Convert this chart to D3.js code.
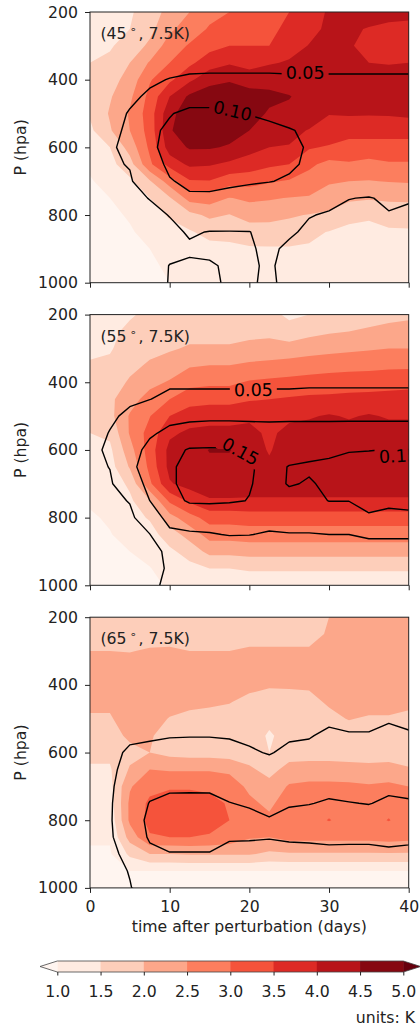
<!DOCTYPE html>
<html>
<head>
<meta charset="utf-8">
<script src="https://cdn.jsdelivr.net/npm/d3@7"></script>
<style>
  body { margin: 0; background: #fff; }
  svg { display: block; }
  text { font-family: "DejaVu Sans", sans-serif; fill: #222; }
</style>
</head>
<body>
<svg id="chart" width="420" height="1032"></svg>
<script>
// grid axes of the model output
const days = [0, 2.5, 5, 7.5, 10, 12.5, 15, 17.5, 20, 22.5, 25, 27.5, 30, 32.5, 35, 37.5, 40];
const pressures = [200, 250, 300, 350, 400, 450, 500, 550, 600, 650, 700, 750, 800, 850, 900, 950, 1000];

const fillLevels = [1.0, 1.5, 2.0, 2.5, 3.0, 3.5, 4.0, 4.5, 5.0];
const lineLevels = [5, 10, 15];          // line field is kept in hundredths (0.05, 0.10, 0.15)
const dayTicks = [0, 10, 20, 30, 40];
const pressureTicks = [200, 400, 600, 800, 1000];
const panelTitles = ["45", "55", "65"];
const redsStops = ["#fff5f0", "#fee0d2", "#fcbba1", "#fc9272", "#fb6a4a", "#ef3b2c", "#cb181d", "#a50f15", "#67000d"];

// temperature response (K); one array per day, 200 hPa -> 1000 hPa
const fill45 = [
  [1.3,1.35,1.4,1.5,1.6,1.65,1.55,1.4,1.3,1.1,0.95,0.9,0.85,0.8,0.8,0.8,0.8],
  [1.35,1.4,1.45,1.6,1.8,1.95,2.05,1.95,1.5,1.35,1.2,1.0,0.9,0.85,0.8,0.8,0.8],
  [1.45,1.5,1.7,2.0,2.2,2.4,2.55,2.5,2.2,1.8,1.4,1.2,1.05,0.95,0.85,0.8,0.8],
  [1.7,1.85,2.1,2.55,2.95,3.15,3.25,3.2,3.1,2.9,1.95,1.5,1.3,1.15,1.0,0.9,0.85],
  [2.2,2.4,2.75,3.0,3.4,4.0,4.35,4.45,4.25,3.7,2.75,1.95,1.55,1.35,1.2,1.1,1.0],
  [2.5,2.75,3.05,3.4,3.9,4.6,4.8,4.8,4.55,4.1,3.45,2.7,1.85,1.45,1.25,1.15,1.1],
  [2.85,3.05,3.35,3.75,4.35,4.75,4.9,4.85,4.55,4.05,3.48,2.75,2.1,1.65,1.35,1.2,1.1],
  [3.0,3.2,3.5,3.95,4.45,4.8,4.85,4.7,4.45,3.9,3.2,2.48,1.98,1.65,1.4,1.25,1.15],
  [3.2,3.3,3.5,3.8,4.3,4.7,4.68,4.5,4.2,3.75,3.2,2.6,2.2,1.75,1.45,1.3,1.2],
  [3.35,3.4,3.5,3.95,4.35,4.6,4.45,4.25,4.0,3.6,3.05,2.55,2.15,1.8,1.45,1.3,1.2],
  [3.5,3.6,3.8,4.05,4.3,4.52,4.4,4.15,3.97,3.5,2.95,2.48,2.05,1.8,1.45,1.3,1.2],
  [3.8,3.85,4.02,4.2,4.3,4.35,4.3,3.97,3.55,3.1,2.8,2.45,1.98,1.6,1.45,1.35,1.3],
  [4.05,4.1,4.15,4.25,4.3,4.3,4.02,3.8,3.45,2.85,2.55,2.3,1.9,1.48,1.35,1.3,1.25],
  [4.1,4.05,4.05,4.15,4.25,4.25,4.05,3.7,3.3,2.95,2.5,2.1,1.62,1.4,1.3,1.25,1.2],
  [4.15,3.98,3.85,4.0,4.2,4.2,4.04,3.7,3.3,2.85,2.48,2.05,1.55,1.4,1.3,1.25,1.2],
  [4.15,3.9,3.8,3.98,4.15,4.2,4.05,3.7,3.3,2.95,2.52,2.1,1.65,1.45,1.3,1.25,1.2],
  [4.1,3.9,3.85,4.0,4.1,4.15,4.1,3.7,3.3,2.95,2.55,2.1,1.7,1.45,1.35,1.3,1.25]
];
const fill55 = [
  [1.3,1.35,1.4,1.55,1.7,1.75,1.7,1.5,1.35,1.25,1.1,1.05,0.95,0.9,0.85,0.8,0.8],
  [1.35,1.4,1.45,1.6,1.8,1.9,1.85,1.6,1.4,1.3,1.2,1.1,1.05,0.98,0.9,0.85,0.8],
  [1.45,1.6,1.75,1.9,2.05,2.3,2.55,2.55,2.3,2.05,1.6,1.4,1.3,1.15,1.0,0.9,0.85],
  [1.6,1.75,1.9,2.05,2.35,2.7,2.98,3.2,3.25,3.15,2.9,1.98,1.55,1.3,1.15,0.98,0.9],
  [1.7,1.85,1.95,2.2,2.55,3.0,3.5,3.9,4.15,4.15,3.95,3.1,2.3,1.75,1.4,1.2,1.05],
  [1.75,1.85,2.05,2.45,2.85,3.3,3.75,4.1,4.3,4.35,4.2,3.6,2.8,2.2,1.7,1.35,1.15],
  [1.75,1.85,2.05,2.5,2.9,3.35,3.8,4.15,4.52,4.4,4.25,3.95,3.2,2.7,2.15,1.5,1.2],
  [1.75,1.85,2.05,2.5,2.9,3.35,3.8,4.15,4.52,4.4,4.25,3.95,3.2,2.7,2.15,1.5,1.2],
  [1.75,1.9,2.1,2.6,3.05,3.45,3.9,4.15,4.3,4.3,4.2,3.95,3.25,2.75,2.2,1.55,1.25],
  [1.65,1.9,2.15,2.65,3.1,3.5,3.85,3.9,3.95,4.1,4.2,3.95,3.25,2.75,2.2,1.55,1.25],
  [1.4,1.7,2.2,2.7,3.15,3.55,3.9,4.15,4.3,4.3,4.2,3.95,3.25,2.75,2.2,1.55,1.25],
  [1.5,1.85,2.3,2.75,3.2,3.6,3.95,4.2,4.3,4.3,4.2,3.95,3.25,2.75,2.2,1.55,1.25],
  [1.75,1.95,2.35,2.8,3.25,3.6,4.05,4.2,4.3,4.3,4.2,3.95,3.25,2.75,2.2,1.55,1.25],
  [1.8,2.0,2.4,2.85,3.25,3.65,3.95,4.2,4.3,4.3,4.2,3.95,3.25,2.75,2.2,1.55,1.25],
  [1.85,2.05,2.45,2.85,3.3,3.65,4.05,4.2,4.3,4.3,4.2,3.95,3.25,2.75,2.2,1.55,1.25],
  [1.9,2.1,2.5,2.9,3.3,3.7,3.95,4.2,4.3,4.3,4.2,3.95,3.25,2.75,2.2,1.55,1.25],
  [1.95,2.1,2.5,2.9,3.35,3.7,3.95,4.2,4.3,4.3,4.2,3.95,3.25,2.75,2.2,1.55,1.25]
];
const fill65 = [
  [1.7,1.8,2.0,2.2,2.25,2.1,1.95,1.8,1.6,1.45,1.3,1.2,1.12,1.05,0.95,0.88,0.85],
  [1.7,1.8,2.0,2.2,2.25,2.1,1.95,1.8,1.6,1.45,1.35,1.25,1.15,1.05,0.95,0.88,0.85],
  [1.7,1.8,1.98,2.2,2.3,2.3,2.25,2.1,1.85,2.05,2.45,2.6,2.6,2.2,1.6,1.0,0.9],
  [1.7,1.8,2.05,2.25,2.3,2.25,2.15,2.05,2.0,2.5,2.85,3.1,3.15,2.95,2.0,1.0,0.9],
  [1.75,1.85,2.05,2.25,2.3,2.15,1.98,1.8,1.85,2.45,2.95,3.2,3.25,3.0,2.0,1.0,0.9],
  [1.75,1.85,2.0,2.25,2.3,2.1,1.9,1.75,1.8,2.45,2.95,3.2,3.25,3.0,2.05,1.0,0.9],
  [1.75,1.85,2.0,2.25,2.3,2.05,1.9,1.75,1.8,2.45,2.9,3.15,3.2,2.95,2.05,1.0,0.9],
  [1.75,1.85,2.0,2.25,2.25,2.02,1.85,1.7,1.75,2.4,2.75,2.95,3.0,2.8,2.05,1.0,0.9],
  [1.75,1.85,2.05,2.25,2.1,1.9,1.8,1.7,1.7,2.1,2.4,2.6,2.7,2.55,2.05,1.0,0.9],
  [1.75,1.85,2.05,2.2,2.05,1.8,1.6,1.45,1.5,1.8,2.2,2.4,2.6,2.5,1.9,1.0,0.9],
  [1.75,1.85,2.05,2.2,2.05,1.85,1.7,1.65,1.75,2.2,2.55,2.75,2.8,2.65,1.95,1.0,0.9],
  [1.75,1.85,2.05,2.2,2.05,1.9,1.7,1.65,1.75,2.25,2.6,2.8,2.85,2.65,1.95,1.0,0.9],
  [2.0,2.05,2.1,2.2,2.15,2.05,1.9,1.7,1.75,2.25,2.6,2.85,3.02,2.65,1.95,1.0,0.9],
  [2.2,2.25,2.3,2.35,2.35,2.25,2.02,1.8,1.75,2.2,2.6,2.8,2.85,2.65,1.95,1.0,0.9],
  [2.2,2.25,2.3,2.35,2.35,2.2,1.95,1.8,1.75,2.15,2.55,2.8,2.85,2.65,1.95,1.0,0.9],
  [2.2,2.25,2.3,2.35,2.35,2.2,1.95,1.8,1.75,2.2,2.6,2.85,3.02,2.7,1.95,1.0,0.9],
  [2.2,2.25,2.3,2.35,2.35,2.1,1.9,1.75,1.75,2.05,2.5,2.75,2.8,2.65,1.95,1.0,0.9]
];

// black contour field (hundredths); one array per day, 200 hPa -> 1000 hPa
const line45 = [
  [1,1.5,2,2.5,3,3.2,3.5,3.8,4,3.8,3.5,3.2,3,2.8,2.6,2.5,2.4],
  [1,1.5,2,2.5,3,3.5,4,4.3,4.7,4.5,4.2,3.8,3.5,3.2,3,2.8,2.7],
  [1.5,2,2.5,3,3.5,4.5,5.2,5.5,5.6,5.2,4.6,4.2,3.8,3.5,3.2,3,2.9],
  [2,2.5,3,3.5,4.6,5.4,7.5,9.3,9.5,8.6,7.5,5.1,4.2,3.8,3.5,3.3,3.2],
  [2,3,3.5,4,5.1,8,9.8,10.6,10.8,10.6,9.8,7.5,5.1,4.3,4,5.1,5.2],
  [2.5,3,3.5,4.2,5.4,8.5,10.8,11.5,11.5,11.2,10.6,9.6,7,5.3,4.6,5.4,5.5],
  [2.5,3,3.5,4.2,5.5,8.5,10.8,11.6,11.7,11.4,10.8,9.5,7.2,4.9,4.4,5.3,5.4],
  [2.5,3,3.5,4.2,5.5,8,10.3,11.2,11.3,11,10.5,9.2,7,4.9,4.4,4.6,4.7],
  [2.5,3,3.5,4.2,5.5,7.8,9.9,10.9,11,10.8,10.3,8.8,6.6,4.95,4.8,4.8,4.8],
  [2.5,3,3.5,4.2,5.5,7.5,9.5,10.6,10.8,10.6,10.1,8.3,6.5,5.7,5.4,5.2,5.3],
  [2.5,3,3.5,4.2,5.4,7,8.8,10.2,10.5,10.4,9.7,8,6.5,5.3,4.6,4.5,4.5],
  [2.5,3,3.5,4.2,5.4,6.5,7.5,9.5,9.8,9.6,8.6,7,5.1,4.6,4.3,4.2,4.2],
  [2.5,3,3.5,4.2,5.4,6.3,7,7.6,7.8,7.5,6.8,5.6,4.8,4.4,4.2,4.1,4.1],
  [2.5,3,3.5,4.2,5.4,6.2,6.8,7.3,7.4,7,6.5,5.05,4.5,4.3,4.1,4,4],
  [2.5,3,3.5,4.2,5.4,6.2,6.7,7,7.2,6.8,6.5,4.9,4.4,4.2,4.1,4,4],
  [2.5,3,3.5,4.2,5.4,6,6.5,7,7.2,6.8,6.3,5.3,4.9,4.3,4.1,4,4],
  [2.5,3,3.5,4.2,5.4,6,6.5,7,7.2,6.8,6.2,5.2,4.6,4.3,4.1,4,4]
];
const line55 = [
  [1.5,2,2.3,2.5,3,3.5,3.8,4,4.1,4,3.8,3.5,3.2,3,2.8,2.6,2.5],
  [1.5,2,2.5,3,3.3,4,4.6,5.1,5.6,5.1,4.5,4,3.5,3.2,3,2.8,2.6],
  [1.5,2,2.5,3,3.8,4.6,5.5,7,8.5,9.2,8,5.2,4.2,3.6,3.3,3,2.8],
  [1.5,2,2.5,3.2,4.2,4.95,7,9.5,11,11.5,11,10,7.5,4.9,4.4,4.2,4.4],
  [1.5,2,2.5,3.5,4.6,5.6,9,10.8,13.5,14.5,14.5,13.5,11.5,9,5.4,5.3,5.6],
  [1.5,2,2.5,3.5,4.6,5.6,9.2,11.5,15.4,16,16,15.5,12,9.5,7,6,5.8],
  [1.5,2,2.5,3.5,4.6,5.6,9.3,11.8,15.5,16.2,16.2,15.6,12.2,9.7,7,6,5.8],
  [1.5,2,2.5,3.5,4.6,5.6,9.3,11.8,15.4,16,16,15.4,12,10.2,7,6,5.8],
  [1.5,2,2.5,3.5,4.6,5.6,9.3,11.5,15.2,15.3,15.2,14.9,11.8,10.1,7,6,5.8],
  [1.5,2,2.5,3.5,4.6,5.6,9.3,11.3,13.5,14.2,14.0,13.3,11.5,9.6,7,6,5.8],
  [1.5,2,2.5,3.5,4.6,5.6,9.3,11.5,14,15.1,15.2,14,11.8,9.8,7,6,5.8],
  [1.5,2,2.5,3.5,4.6,5.8,9.3,11.5,14.3,15.3,14.8,13.8,11.8,9.8,7,6,5.8],
  [1.5,2,2.5,3.5,4.6,5.8,9.3,11.5,14.6,15.4,15.4,15.1,12,10,7,6,5.8],
  [1.5,2,2.5,3.5,4.6,5.8,9.3,11.6,14.9,15.6,15.6,15.1,12,10,7,6,5.8],
  [1.5,2,2.5,3.5,4.6,5.8,9.3,11.6,14.95,15.8,15.8,15.5,14.8,11,7,6,5.8],
  [1.5,2,2.5,3.5,4.6,5.8,9.3,11.6,15.05,15.8,15.8,15.4,14.5,11,7,6,5.8],
  [1.5,2,2.5,3.5,4.6,5.8,9.3,11.6,15.05,15.8,15.8,15.5,14.6,11,7,6,5.8]
];
const line65 = [
  [1,1.5,2,2.5,3,3.2,3.5,3.8,4,4.2,4.3,4.3,4.3,4.2,4.1,4,4],
  [1,1.5,2,2.5,3,3.2,3.5,3.8,4.1,4.4,4.6,4.7,4.7,4.6,4.5,4.3,4.2],
  [1,1.5,2,2.5,3,3.2,3.6,4.4,5.5,6,6.5,7,7.5,7,5.6,5.1,4.9],
  [1,1.5,2,2.5,3,3.3,3.8,4.6,5.8,7,8.5,10.2,11,10.5,9,6.5,6],
  [1,1.5,2,2.5,3,3.3,3.9,4.85,6,7.5,9,11.5,12,11.5,9.8,7.5,6.5],
  [1,1.5,2,2.5,3,3.3,3.9,4.9,6,7.5,9.1,11.5,12,11.5,9.8,7.5,6.5],
  [1,1.5,2,2.5,3,3.3,3.9,4.9,6,7.5,9.1,11.4,12,11.5,9.8,7.5,6.5],
  [1,1.5,2,2.5,3,3.3,3.9,4.8,5.8,7.2,8.6,10.1,11.5,10.5,8.5,7,6.3],
  [1,1.5,2,2.5,3,3.3,3.8,4.5,5.3,6.8,8.2,9.6,11,10.4,8.5,7,6.3],
  [1,1.5,2,2.5,3,3.2,3.6,4.2,4.85,6,7.5,8.8,10.3,10.2,8.5,7,6.3],
  [1,1.5,2,2.5,3,3.3,3.9,4.7,5.5,7,8.6,9.7,11,10.6,8.5,7,6.3],
  [1,1.5,2,2.5,3,3.4,4.0,4.8,5.8,7.2,8.8,9.9,11.2,10.8,8.5,7,6.3],
  [1,1.5,2,2.5,3,3.5,4.4,5.6,6.5,7.8,9.2,10.3,11.5,11,8.8,7,6.3],
  [1,1.5,2,2.5,3,3.5,4.3,5.2,6.2,7.5,8.9,10.1,11.5,10.9,8.8,7,6.3],
  [1,1.5,2,2.5,3,3.5,4.3,5.2,6.2,7.5,8.8,9.9,11.4,10.9,8.8,7,6.3],
  [1,1.5,2,2.5,3,3.6,4.7,5.8,6.8,8,9.4,10.5,11.6,11.1,9.2,7,6.3],
  [1,1.5,2,2.5,3,3.5,4.4,5.3,6.4,7.8,9.2,10.3,11.5,11,8.8,7,6.3]
];

// inline contour labels: position on the line (day, hPa) and text angle
const labels45 = [
  { text: "0.05", day: 27.0, p: 380, angle: 0 },
  { text: "0.10", day: 17.9, p: 492, angle: 13 }
];
const labels55 = [
  { text: "0.05", day: 20.5, p: 422, angle: -1 },
  { text: "0.15", day: 18.9, p: 604, angle: 29 },
  { text: "0.15", day: 38.7, p: 617, angle: -3 }
];
const labels65 = [];

const panels = [
  { fill: fill45, lines: line45, labels: labels45 },
  { fill: fill55, lines: line55, labels: labels55 },
  { fill: fill65, lines: line65, labels: labels65 }
];

const svg = d3.select("#chart");
const tickFont = 15.7;

const x = d3.scaleLinear().domain([0, 40]).range([90, 408.7]);
const panelTops = [12, 314.6, 617.2], panelH = 270.7;

// matplotlib-style "Reds" sampled at band midpoints
const reds = d3.scaleLinear().domain(d3.range(redsStops.length).map(i => i / (redsStops.length - 1)))
    .range(redsStops).interpolate(d3.interpolateRgb);
const norm = d3.scaleLinear().domain([fillLevels[0], fillLevels[fillLevels.length - 1]]).range([0, 1]);
const underColor = reds(0), overColor = reds(1);
const bandColor = i => i < fillLevels.length - 1
    ? reds(norm((fillLevels[i] + fillLevels[i + 1]) / 2)) : overColor;

// day columns -> row-major grid for d3.contours
function gridFromDays(cols) {
    const n = cols.length, m = cols[0].length, v = new Array(n * m);
    for (let i = 0; i < n; i++) for (let j = 0; j < m; j++) v[j * n + i] = cols[i][j];
    return v;
}
// contour grid coordinate (cell centres at i + 0.5) -> data value
const gx = d3.scaleLinear().domain([0.5, days.length - 0.5]).range([days[0], days[days.length - 1]]);
const gy = d3.scaleLinear().domain([0.5, pressures.length - 0.5]).range([pressures[0], pressures[pressures.length - 1]]);

panels.forEach((pn, k) => {
    const top = panelTops[k];
    const y = d3.scaleLinear().domain([200, 1000]).range([top, top + panelH]);
    const path = d3.geoPath(d3.geoTransform({
        point(px, py) { this.stream.point(x(gx(px)), y(gy(py))); }
    }));

    const clipId = "clip" + k;
    svg.append("clipPath").attr("id", clipId).append("rect")
        .attr("x", x(0)).attr("y", y(200))
        .attr("width", x(40) - x(0)).attr("height", y(1000) - y(200));

    const g = svg.append("g").attr("clip-path", `url(#${clipId})`);

    // filled bands
    g.append("rect").attr("x", x(0)).attr("y", y(200))
        .attr("width", x(40) - x(0)).attr("height", y(1000) - y(200))
        .attr("fill", underColor);
    const bands = d3.contours().size([days.length, pressures.length])
        .thresholds(fillLevels)(gridFromDays(pn.fill));
    g.append("g").selectAll("path").data(bands).join("path")
        .attr("d", path).attr("fill", (d, i) => bandColor(i));

    // black contour lines, with gaps under the labels
    const maskId = "mask" + k;
    const mask = svg.append("mask").attr("id", maskId).attr("maskUnits", "userSpaceOnUse")
        .attr("x", 0).attr("y", 0).attr("width", 420).attr("height", 1032);
    mask.append("rect").attr("x", 0).attr("y", 0).attr("width", 420).attr("height", 1032).attr("fill", "white");

    const lines = d3.contours().size([days.length, pressures.length])
        .thresholds(lineLevels)(gridFromDays(pn.lines));
    g.append("g").attr("mask", `url(#${maskId})`)
        .selectAll("path").data(lines).join("path")
        .attr("d", path).attr("fill", "none")
        .attr("stroke", "#000").attr("stroke-width", 1.4).attr("stroke-linejoin", "round");

    const labelG = g.append("g");
    pn.labels.forEach(lb => {
        const tr = `translate(${x(lb.day)},${y(lb.p)}) rotate(${lb.angle})`;
        const t = labelG.append("text").attr("transform", tr)
            .attr("text-anchor", "middle").attr("dy", "0.36em")
            .attr("font-size", 17.5).style("fill", "#000").text(lb.text);
        const w = t.node().getComputedTextLength() + 8;
        mask.append("rect").attr("transform", tr)
            .attr("x", -w / 2).attr("y", -9).attr("width", w).attr("height", 18).attr("fill", "black");
    });

    // axes
    const yAxis = svg.append("g").attr("transform", `translate(${x(0)},0)`)
        .call(d3.axisLeft(y).tickValues(pressureTicks).tickSize(5).tickPadding(7).tickFormat(d3.format("d")));
    const xAxis = svg.append("g").attr("transform", `translate(0,${y(1000)})`)
        .call(d3.axisBottom(x).tickValues(dayTicks).tickSize(5).tickPadding(8)
            .tickFormat(k === panels.length - 1 ? d3.format("d") : () => ""));
    [yAxis, xAxis].forEach(a => {
        a.select(".domain").remove();
        a.attr("font-family", null).attr("font-size", null);
        a.selectAll("text").attr("font-size", tickFont);
        a.selectAll("line").attr("stroke", "#222").attr("stroke-width", 1);
    });

    svg.append("rect").attr("x", x(0)).attr("y", y(200))
        .attr("width", x(40) - x(0)).attr("height", y(1000) - y(200))
        .attr("fill", "none").attr("stroke", "#222").attr("stroke-width", 1);

    // panel tag
    const tag = svg.append("text").attr("x", 100.5).attr("y", top + 27).attr("font-size", tickFont);
    tag.append("tspan").text("(" + panelTitles[k]);
    tag.append("tspan").attr("font-size", 11).attr("dx", 3).attr("dy", -6).text("\u2218");
    tag.append("tspan").attr("dx", 2).attr("dy", 6).text(", 7.5K)");

    svg.append("text").attr("transform", `translate(25.5,${top + panelH / 2}) rotate(-90)`)
        .attr("text-anchor", "middle").attr("font-size", tickFont).text("P (hpa)");
});

svg.append("text").attr("x", (x(0) + x(40)) / 2).attr("y", 932)
    .attr("text-anchor", "middle").attr("font-size", tickFont).text("time after perturbation (days)");

// colour bar with triangular extensions
const cb = d3.scaleLinear().domain([fillLevels[0], fillLevels[fillLevels.length - 1]]).range([57.3, 403.3]);
const cbTop = 961, cbH = 11, ext = (cb.range()[1] - cb.range()[0]) * 0.05;
const cbG = svg.append("g");
cbG.selectAll("rect").data(fillLevels.slice(0, -1)).join("rect")
    .attr("x", d => cb(d)).attr("y", cbTop)
    .attr("width", (d, i) => cb(fillLevels[i + 1]) - cb(d) + 0.5).attr("height", cbH)
    .attr("fill", (d, i) => bandColor(i));
const x0 = cb.range()[0], x1 = cb.range()[1], ym = cbTop + cbH / 2;
cbG.append("path").attr("d", `M${x0},${cbTop}L${x0 - ext},${ym}L${x0},${cbTop + cbH}Z`).attr("fill", underColor);
cbG.append("path").attr("d", `M${x1},${cbTop}L${x1 + ext},${ym}L${x1},${cbTop + cbH}Z`).attr("fill", overColor);
cbG.append("path")
    .attr("d", `M${x0},${cbTop}L${x1},${cbTop}L${x1 + ext},${ym}L${x1},${cbTop + cbH}L${x0},${cbTop + cbH}L${x0 - ext},${ym}Z`)
    .attr("fill", "none").attr("stroke", "#444").attr("stroke-width", 0.8);
const cbAxis = svg.append("g").attr("transform", `translate(0,${cbTop + cbH})`)
    .call(d3.axisBottom(cb).tickValues(fillLevels).tickSize(3.5).tickPadding(10).tickFormat(d3.format(".1f")));
cbAxis.select(".domain").remove();
cbAxis.attr("font-family", null).attr("font-size", null);
cbAxis.selectAll("text").attr("font-size", tickFont);
cbAxis.selectAll("line").attr("stroke", "#222");

svg.append("text").attr("x", 415).attr("y", 1023).attr("text-anchor", "end")
    .attr("font-size", tickFont).text("units: K");
</script>
</body>
</html>
